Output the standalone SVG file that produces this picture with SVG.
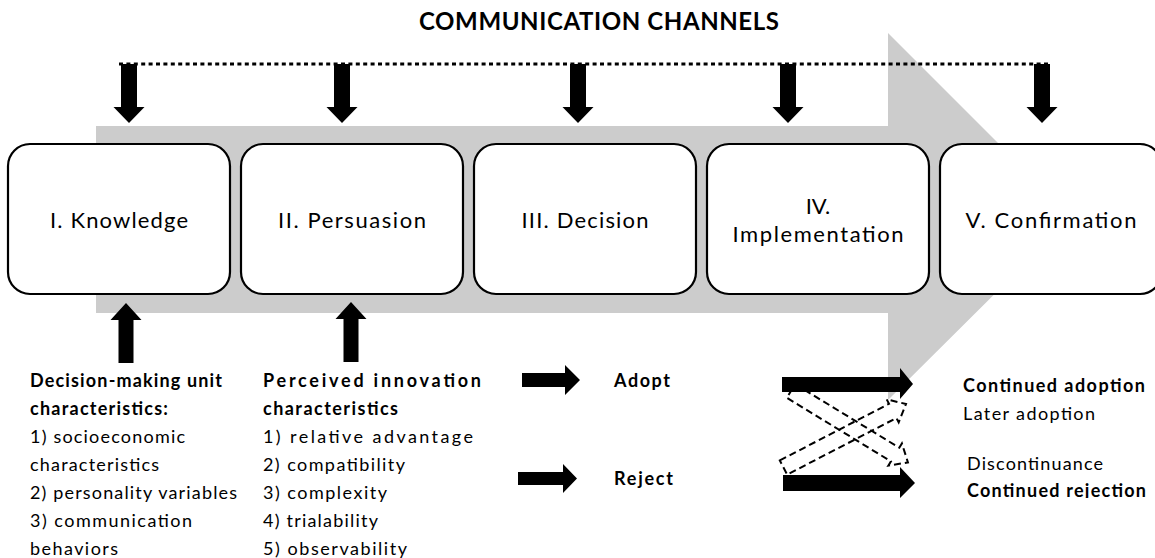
<svg xmlns="http://www.w3.org/2000/svg" width="1155" height="558" viewBox="0 0 1155 558">
  <style>
    .box { fill: #ffffff; stroke: #000000; stroke-width: 2.2; }
    .lbl { font-family: Lato, "Liberation Sans", sans-serif; font-size: 22px; fill: #000; }
    .t { font-family: Lato, "Liberation Sans", sans-serif; font-size: 18px; fill: #000; }
    .b { font-weight: bold; }
    .solid { fill: #000; stroke: none; }
    .dashed { fill: none; stroke: #000; stroke-width: 2; stroke-dasharray: 7 4; }
  </style>
  <defs>
    <path id="down" d="M-8,0 H8 V43 H15.5 L0,59 L-15.5,43 H-8 Z"/>
    <path id="up" d="M0,0 L15.5,17 H7.5 V60 H-7.5 V17 H-15.5 Z"/>
    <clipPath id="cutBottom"><rect x="0" y="0" width="1155" height="498"/></clipPath>
  </defs>
  <rect width="1155" height="558" fill="#ffffff"/>

  <!-- big process arrow -->
  <polygon id="process-arrow" points="96,126 888,126 888,33 1072,217 888,400 888,313 96,313" fill="#cccccc"/>

  <text x="599" y="30" text-anchor="middle" textLength="360" font-family="Lato, 'Liberation Sans', sans-serif" font-size="24" font-weight="bold">COMMUNICATION CHANNELS</text>

  <g id="connectors">
    <line x1="119" y1="64" x2="1048" y2="64" stroke="#000" stroke-width="3" stroke-dasharray="4 3.4"/>
    <use href="#down" x="129" y="64" class="solid"/>
    <use href="#down" x="342" y="64" class="solid"/>
    <use href="#down" x="578" y="64" class="solid"/>
    <use href="#down" x="788" y="64" class="solid"/>
    <use href="#down" x="1042" y="64" class="solid"/>
    <use href="#up" x="126" y="303" class="solid"/>
    <use href="#up" x="351" y="302" class="solid"/>
    <polygon class="solid" points="522,373 565,373 565,365 580,380 565,395 565,387 522,387"/>
    <polygon class="solid" points="518,472 563,472 563,464 577,478.5 563,493 563,485 518,485"/>
    <polygon class="dashed" transform="translate(791,391) rotate(31.4)" points="0,-8 122,-8 122,-13 137,0 122,13 122,8 0,8"/>
    <polygon class="dashed" transform="translate(783.5,467.5) rotate(-27.4)" points="0,-8 123,-8 123,-13 138,0 123,13 123,8 0,8"/>
    <polygon class="solid" points="782,377 900,377 900,368 913,384 900,399 900,392 782,392"/>
    <polygon class="solid" points="783,475 900,475 900,467 915,483 900,498 900,491 783,491"/>
  </g>

  <g id="knowledge">
    <rect class="box" x="8" y="144" width="222" height="150" rx="22"/>
    <text class="lbl" x="119" y="228" text-anchor="middle" textLength="138">I. Knowledge</text>
  </g>
  <g id="persuasion">
    <rect class="box" x="241" y="144" width="222" height="150" rx="22"/>
    <text class="lbl" x="352" y="228" text-anchor="middle" textLength="148">II. Persuasion</text>
  </g>
  <g id="decision">
    <rect class="box" x="474" y="144" width="222" height="150" rx="22"/>
    <text class="lbl" x="585" y="228" text-anchor="middle" textLength="127">III. Decision</text>
  </g>
  <g id="implementation">
    <rect class="box" x="707" y="144" width="222" height="150" rx="22"/>
    <text class="lbl" x="818" y="214" text-anchor="middle">IV.</text>
    <text class="lbl" x="818" y="242" text-anchor="middle" textLength="171">Implementation</text>
  </g>
  <g id="confirmation">
    <rect class="box" x="940" y="144" width="222" height="150" rx="22"/>
    <text class="lbl" x="1051" y="228" text-anchor="middle" textLength="171">V. Confirmation</text>
  </g>

  <g id="decision-unit-characteristics">
    <text class="t b" x="30" y="387" textLength="192">Decision-making unit</text>
    <text class="t b" x="30" y="415" textLength="138">characteristics:</text>
    <text class="t" x="30" y="443" textLength="155">1) socioeconomic</text>
    <text class="t" x="30" y="471" textLength="129">characteristics</text>
    <text class="t" x="30" y="499" textLength="207">2) personality variables</text>
    <text class="t" x="30" y="527" textLength="162">3) communication</text>
    <text class="t" x="30" y="555" textLength="88">behaviors</text>
  </g>
  <g id="innovation-characteristics">
    <text class="t b" x="263" y="387" textLength="218">Perceived innovation</text>
    <text class="t b" x="263" y="415" textLength="135">characteristics</text>
    <text class="t" x="263" y="443" textLength="210">1) relative advantage</text>
    <text class="t" x="263" y="471" textLength="142">2) compatibility</text>
    <text class="t" x="263" y="499" textLength="124">3) complexity</text>
    <text class="t" x="263" y="527" textLength="115">4) trialability</text>
    <text class="t" x="263" y="555" textLength="144">5) observability</text>
  </g>
  <g id="adopt">
    <text class="t b" x="614" y="387" textLength="56">Adopt</text>
  </g>
  <g id="reject">
    <text class="t b" x="614" y="485" textLength="59">Reject</text>
  </g>
  <g id="outcomes" clip-path="url(#cutBottom)">
    <text class="t b" x="963" y="392" textLength="182">Continued adoption</text>
    <text class="t" x="963" y="420" textLength="132">Later adoption</text>
    <text class="t" x="967" y="470" textLength="136">Discontinuance</text>
    <text class="t b" x="967" y="497" textLength="179">Continued rejection</text>
  </g>
</svg>
